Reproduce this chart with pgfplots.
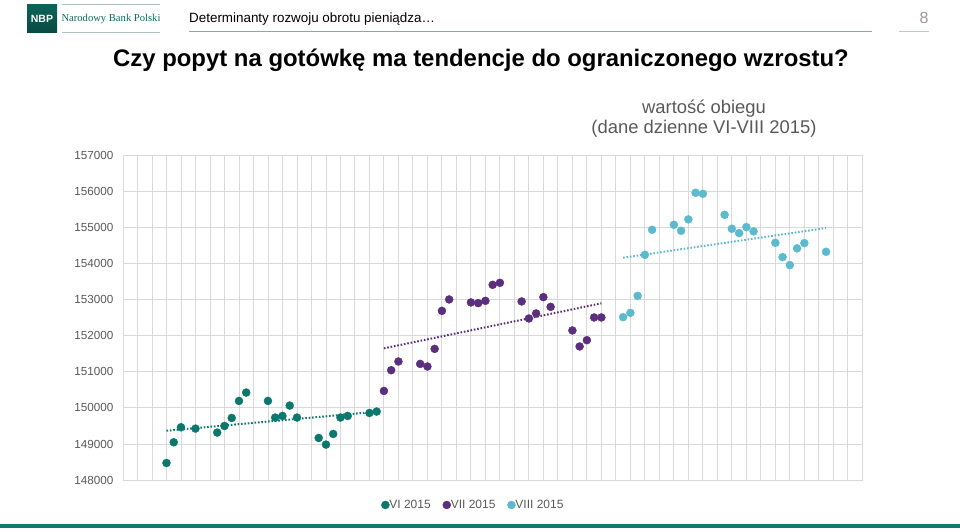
\documentclass[border=0pt]{standalone}
\usepackage{pgfplots}
\pgfplotsset{compat=1.18}
\usepackage{fontspec}
\setmainfont{Liberation Sans}
\newfontfamily\serif{Liberation Serif}

\definecolor{cjun}{RGB}{10,120,108}
\definecolor{cjul}{RGB}{92,46,126}
\definecolor{caug}{RGB}{92,186,206}
\definecolor{gridgray}{RGB}{217,217,217}
\definecolor{txtgray}{RGB}{89,89,89}
\definecolor{nbpgreen}{RGB}{14,124,110}
\definecolor{rule}{RGB}{140,168,172}

\begin{document}
\begin{tikzpicture}[x=1pt,y=1pt]
\useasboundingbox (0,0) rectangle (960,528);

% header
\shade[top color=nbpgreen!80!black, bottom color=nbpgreen!60!black] (27,495) rectangle (57,523);
\node[text=white, font=\fontsize{10.5}{12}\selectfont\bfseries] at (42,509) {NBP};
\draw[rule!70, line width=1pt] (62,523) -- (160,523) (62,495) -- (160,495);
\node[text=nbpgreen!85!black, font=\serif\fontsize{10.6}{13}\selectfont] at (111,509) {Narodowy Bank Polski};
\node[anchor=west, inner sep=0, font=\fontsize{13.4}{15}\selectfont] at (189,509) {Determinanty rozwoju obrotu pieniądza…};
\draw[rule, line width=1pt] (189,496) -- (872,496);
\node[text=black!40, font=\fontsize{16}{18}\selectfont] at (924,510) {8};
\draw[rule!60, line width=1pt] (899,496) -- (929,496);
\node[anchor=base, inner sep=0, font=\fontsize{23.9}{27}\selectfont\bfseries] at (481,461.3)
  {Czy popyt na gotówkę ma tendencje do ograniczonego wzrostu?};
\node[anchor=base, inner sep=0, text=txtgray, font=\fontsize{18.4}{21}\selectfont] at (704,414.7) {wartość obiegu};
\node[anchor=base, inner sep=0, text=txtgray, font=\fontsize{18.4}{21}\selectfont] at (704,394) {(dane dzienne VI-VIII 2015)};

% bottom bar
\fill[nbpgreen] (0,0) rectangle (960,4.5);

\begin{axis}[
  at={(123pt,48pt)}, anchor=south west,
  scale only axis,
  width=739.3pt, height=324.3pt,
  xmin=-5, xmax=97,
  ymin=148000, ymax=157000,
  xtick={-5,-3,...,97}, xticklabels={},
  ytick={148000,149000,...,157000},
  scaled y ticks=false,
  major tick length=0pt,
  xmajorgrids, ymajorgrids,
  grid style={gridgray, line width=0.9pt},
  axis line style={gridgray, line width=0.9pt},
  yticklabel style={text=txtgray, font=\fontsize{11.7}{14}\selectfont, xshift=-6pt,
    /pgf/number format/assume math mode=true,
    /pgf/number format/fixed, /pgf/number format/precision=0,
    /pgf/number format/1000 sep={}},
  mark size=4pt,
  legend style={at={(0.474,-0.077)}, anchor=center, draw=none, fill=none,
    legend columns=3, font=\fontsize{12}{14}\selectfont, text=txtgray,
    /tikz/every even column/.append style={column sep=10pt},
    /tikz/every odd column/.append style={column sep=-2pt}},
  legend image code/.code={\path[#1] plot coordinates {(0pt,0pt)};},
]
\addplot[only marks, mark=*, color=cjun, mark options={draw=none, fill=cjun}] coordinates {
(1,148472)(2,149047)(3,149464)(5,149427)(8,149316)(9,149500)(10,149722)(11,150194)
(12,150427)(15,150194)(16,149733)(17,149778)(18,150066)(19,149733)(22,149167)
(23,148983)(24,149278)(25,149733)(26,149778)(29,149861)(30,149900)
};
\addlegendentry{VI 2015}
\addplot[only marks, mark=*, color=cjul, mark options={draw=none, fill=cjul}] coordinates {
(31,150472)(32,151047)(33,151289)(36,151222)(37,151150)(38,151639)(39,152694)(40,153011)
(43,152928)(44,152908)(45,152972)(46,153417)(47,153472)(50,152955)(51,152483)
(52,152622)(53,153075)(54,152806)(57,152150)(58,151706)(59,151881)(60,152511)(61,152511)
};
\addlegendentry{VII 2015}
\addplot[only marks, mark=*, color=caug, mark options={draw=none, fill=caug}] coordinates {
(64,152519)(65,152639)(66,153111)(67,154250)(68,154944)(71,155083)(72,154917)
(73,155233)(74,155972)(75,155944)(78,155361)(79,154972)(80,154853)(81,155019)
(82,154900)(85,154583)(86,154186)(87,153964)(88,154428)(89,154575)(92,154333)
};
\addlegendentry{VIII 2015}

% trend lines
\addplot[forget plot, cjun, line width=2pt, dash pattern=on 1.6pt off 1.8pt] coordinates {(1,149368)(30,149895)};
\addplot[forget plot, cjul, line width=2pt, dash pattern=on 1.6pt off 1.8pt] coordinates {(31,151654)(61,152903)};
\addplot[forget plot, caug, line width=2pt, dash pattern=on 1.6pt off 1.8pt] coordinates {(64,154169)(92,154993)};
\end{axis}
\end{tikzpicture}
\end{document}
